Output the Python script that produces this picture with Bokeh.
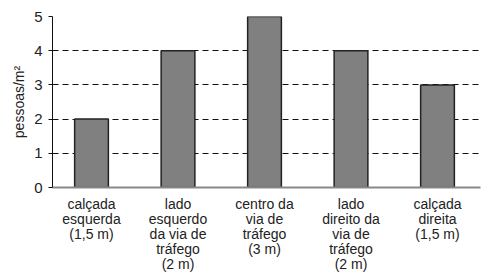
from bokeh.plotting import figure
from bokeh.models import FixedTicker, ColumnDataSource
from bokeh.embed import file_html
from bokeh.resources import INLINE

categories = ["calçada\nesquerda\n(1,5 m)",
              "lado\nesquerdo\nda via de\ntráfego\n(2 m)",
              "centro da\nvia de\ntráfego\n(3 m)",
              "lado\ndireito da\nvia de\ntráfego\n(2 m)",
              "calçada\ndireita\n(1,5 m)"]
positions = [1, 2, 3, 4, 5]
values = [2, 4, 5, 4, 3]
y_ticks = [0, 1, 2, 3, 4, 5]

src = ColumnDataSource(dict(x=positions, top=values))

p = figure(width=499, height=276, output_backend="svg", toolbar_location=None,
           x_range=(0.549, 5.497), y_range=(0, 5),
           min_border_left=52, min_border_right=19, min_border_top=16, min_border_bottom=89)
p.outline_line_color = None
p.background_fill_color = "white"

p.vbar(x="x", top="top", width=0.39, bottom=0, source=src,
       fill_color="#808080", line_color="#222222", line_width=1.5)

font = "Liberation Sans"
# x axis
p.xaxis.ticker = FixedTicker(ticks=positions)
p.xaxis.major_label_overrides = {pos: lab for pos, lab in zip(positions, categories)}
p.xaxis.axis_line_color = "#888888"
p.xaxis.axis_line_width = 2
p.xaxis.major_tick_line_color = None
p.xaxis.minor_tick_line_color = None
p.xaxis.major_label_text_font = font
p.xaxis.major_label_text_font_size = "14px"
p.xaxis.major_label_text_color = "#222222"
p.xaxis.major_label_standoff = 2
p.xaxis.major_label_text_line_height = 0.95

# y axis
p.yaxis.ticker = FixedTicker(ticks=y_ticks)
p.yaxis.axis_line_color = "#111111"
p.yaxis.major_tick_out = 4
p.yaxis.major_tick_in = 0
p.yaxis.major_tick_line_color = "#111111"
p.yaxis.minor_tick_line_color = None
p.yaxis.major_label_text_font = font
p.yaxis.major_label_text_font_size = "15px"
p.yaxis.major_label_text_color = "#222222"
p.yaxis.major_label_standoff = 6
p.yaxis.axis_label = "pessoas/m²"
p.yaxis.axis_label_text_font = font
p.yaxis.axis_label_text_font_size = "14px"
p.yaxis.axis_label_text_font_style = "normal"
p.yaxis.axis_label_text_color = "#222222"
p.yaxis.axis_label_standoff = 4

p.xgrid.grid_line_color = None
p.ygrid.ticker = FixedTicker(ticks=[1, 2, 3, 4, 5])
p.ygrid.grid_line_color = "#111111"
p.ygrid.grid_line_dash = "6 4"
p.ygrid.grid_line_width = 1

open("out.html", "w").write(file_html(p, INLINE))
